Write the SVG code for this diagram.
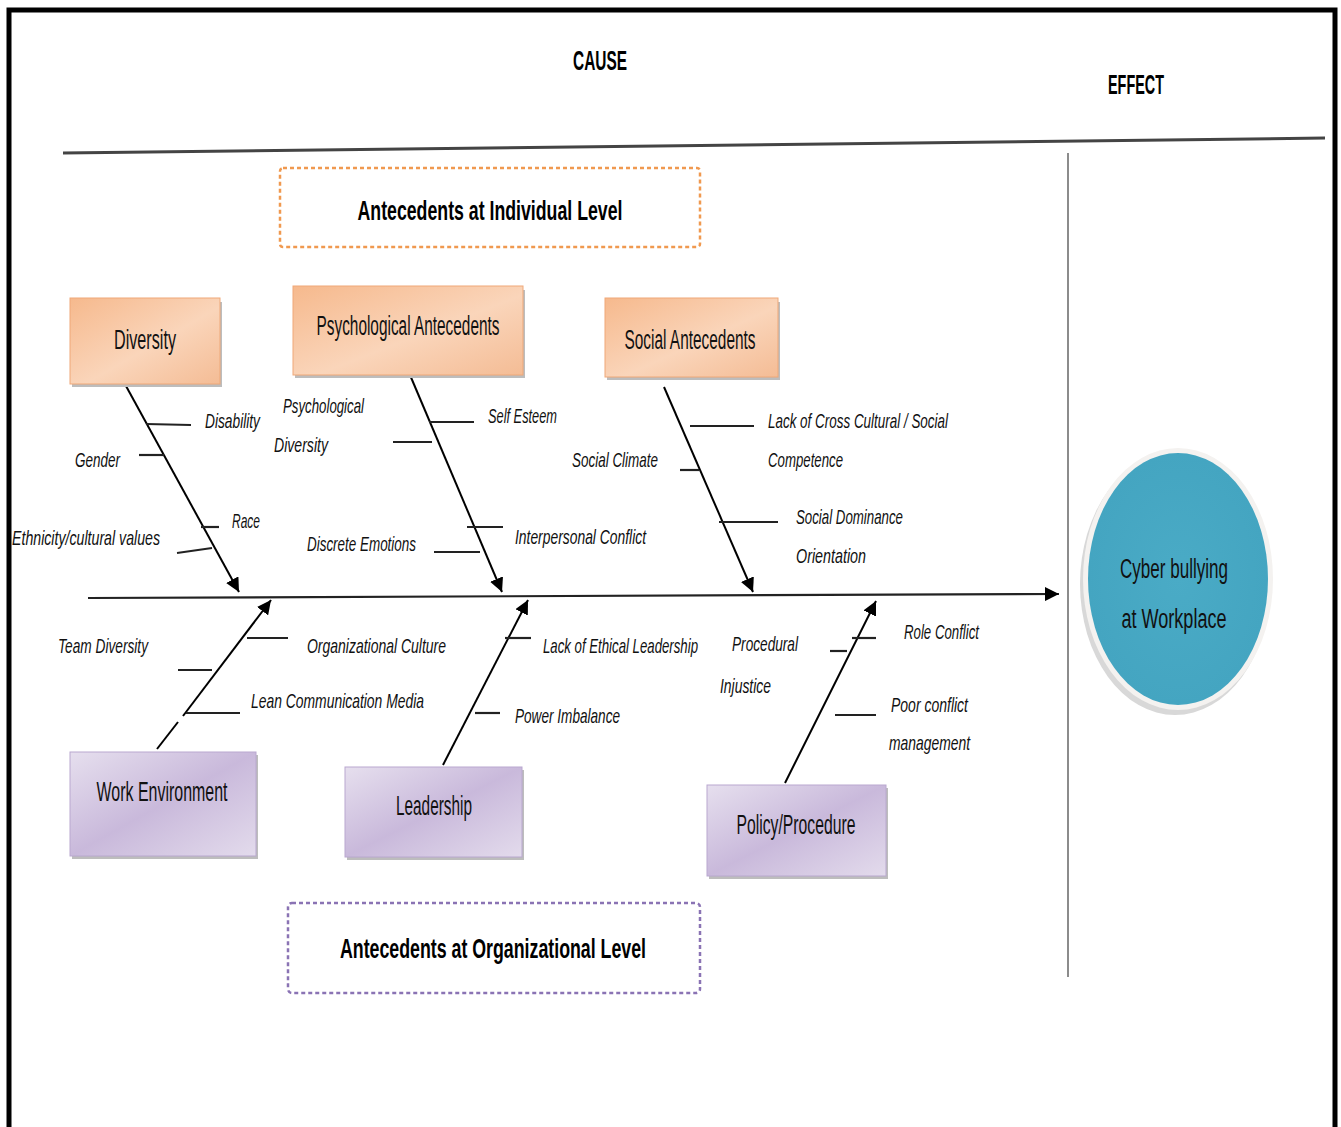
<svg xmlns="http://www.w3.org/2000/svg" width="1341" height="1127" viewBox="0 0 1341 1127">
<defs>
<linearGradient id="gOr" x1="0" y1="0" x2="1" y2="1">
<stop offset="0" stop-color="#F6B98D"/>
<stop offset="0.55" stop-color="#FAD5BA"/>
<stop offset="1" stop-color="#F4BC95"/>
</linearGradient>
<linearGradient id="gPu" x1="0" y1="0" x2="1" y2="1">
<stop offset="0" stop-color="#E6DFEE"/>
<stop offset="0.5" stop-color="#C9B9DB"/>
<stop offset="1" stop-color="#E3DBEC"/>
</linearGradient>
<radialGradient id="gTeal" cx="0.5" cy="0.5" r="0.5">
<stop offset="0" stop-color="#4AABC6"/>
<stop offset="1" stop-color="#44A5C1"/>
</radialGradient>
<marker id="arr" viewBox="0 0 10 10" refX="10" refY="5" markerWidth="14" markerHeight="14" markerUnits="userSpaceOnUse" orient="auto">
<path d="M0,0 L10,5 L0,10 z" fill="#000"/>
</marker>
<style>
.lbl{font-family:"Liberation Sans",Arial,sans-serif;font-style:italic;font-size:21px;fill:#111}
.box{font-family:"Liberation Sans",Arial,sans-serif;font-size:27px;fill:#111;text-anchor:middle}
.ttl{font-family:"Liberation Sans",Arial,sans-serif;font-weight:bold;font-size:28px;fill:#000;text-anchor:middle}
.bone{stroke:#000;stroke-width:2;fill:none}
.rib{stroke:#222;stroke-width:2.2;fill:none}
.orbox{fill:url(#gOr);stroke:#EFA878;stroke-width:1}
.pubox{fill:url(#gPu);stroke:#B9A8CF;stroke-width:1}
.shadow{fill:#BDBDBD}
</style>
</defs>
<rect width="1341" height="1127" fill="#fff"/>
<!-- frame -->
<path d="M9,1127 V10 H1335 V1127" fill="none" stroke="#000" stroke-width="5"/>

<!-- headers -->
<g id="cause-label"><text class="ttl" x="600" y="70" textLength="54" lengthAdjust="spacingAndGlyphs">CAUSE</text></g>
<g id="effect-label"><text class="ttl" x="1136" y="94" textLength="56" lengthAdjust="spacingAndGlyphs">EFFECT</text></g>

<g id="individual-level">
<rect x="280" y="168" width="420" height="79" rx="3" fill="none" stroke="#F0994F" stroke-width="2.5" stroke-dasharray="4 3"/>
<text class="ttl" x="490" y="220" font-size="30" textLength="265" lengthAdjust="spacingAndGlyphs">Antecedents at Individual Level</text>
</g>
<g id="organizational-level">
<rect x="288" y="903" width="412" height="90" rx="4" fill="none" stroke="#8A73B4" stroke-width="2.5" stroke-dasharray="4 3"/>
<text class="ttl" x="493" y="958" font-size="30" textLength="306" lengthAdjust="spacingAndGlyphs">Antecedents at Organizational Level</text>
</g>

<!-- connectors -->
<g id="connectors">
<line x1="63" y1="153" x2="1325" y2="138" stroke="#444" stroke-width="3"/>
<line x1="1068" y1="153" x2="1068" y2="977" stroke="#666" stroke-width="1.5"/>
<line x1="88" y1="598" x2="1059" y2="594" stroke="#222" stroke-width="2.2" marker-end="url(#arr)"/>
<!-- upper bones -->
<line class="bone" x1="126" y1="386" x2="239" y2="592" marker-end="url(#arr)"/>
<line class="bone" x1="410" y1="375" x2="502" y2="592" marker-end="url(#arr)"/>
<line class="bone" x1="664" y1="387" x2="753" y2="592" marker-end="url(#arr)"/>
<!-- lower bones -->
<line class="bone" x1="157" y1="749" x2="178" y2="722"/>
<line class="bone" x1="183" y1="716" x2="271" y2="600" marker-end="url(#arr)"/>
<line class="bone" x1="443" y1="765" x2="528" y2="600" marker-end="url(#arr)"/>
<line class="bone" x1="785" y1="783" x2="876" y2="601" marker-end="url(#arr)"/>
<!-- ribs: diversity -->
<line class="rib" x1="146" y1="424" x2="191" y2="425"/>
<line class="rib" x1="139" y1="455" x2="164" y2="455"/>
<line class="rib" x1="201" y1="527" x2="219" y2="527"/>
<line class="rib" x1="177" y1="553" x2="212" y2="548"/>
<!-- ribs: psychological -->
<line class="rib" x1="429" y1="422" x2="474" y2="422"/>
<line class="rib" x1="393" y1="442" x2="432" y2="442"/>
<line class="rib" x1="467" y1="527" x2="503" y2="527"/>
<line class="rib" x1="434" y1="552" x2="480" y2="552"/>
<!-- ribs: social -->
<line class="rib" x1="690" y1="426" x2="754" y2="426"/>
<line class="rib" x1="680" y1="470" x2="699" y2="470"/>
<line class="rib" x1="719" y1="522" x2="778" y2="522"/>
<!-- ribs: work env -->
<line class="rib" x1="247" y1="638" x2="288" y2="638"/>
<line class="rib" x1="178" y1="670" x2="212" y2="670"/>
<line class="rib" x1="186" y1="713" x2="240" y2="713"/>
<!-- ribs: leadership -->
<line class="rib" x1="505" y1="638" x2="531" y2="638"/>
<line class="rib" x1="475" y1="713" x2="500" y2="713"/>
<!-- ribs: policy -->
<line class="rib" x1="852" y1="638" x2="876" y2="638"/>
<line class="rib" x1="830" y1="651" x2="847" y2="651"/>
<line class="rib" x1="835" y1="715" x2="876" y2="715"/>
</g>

<!-- cause nodes -->
<g id="node-diversity">
<rect class="shadow" x="72" y="302" width="150" height="85"/>
<rect class="orbox" x="70" y="298" width="150" height="86"/>
<text class="box" x="145" y="349" textLength="62" lengthAdjust="spacingAndGlyphs">Diversity</text>
</g>
<g id="node-psychological">
<rect class="shadow" x="295" y="290" width="230" height="88"/>
<rect class="orbox" x="293" y="286" width="230" height="89"/>
<text class="box" x="408" y="335" textLength="183" lengthAdjust="spacingAndGlyphs">Psychological Antecedents</text>
</g>
<g id="node-social">
<rect class="shadow" x="607" y="302" width="173" height="78"/>
<rect class="orbox" x="605" y="298" width="173" height="79"/>
<text class="box" x="690" y="349" textLength="131" lengthAdjust="spacingAndGlyphs">Social Antecedents</text>
</g>
<g id="node-work-environment">
<rect class="shadow" x="72" y="755" width="186" height="104"/>
<rect class="pubox" x="70" y="752" width="186" height="104"/>
<text class="box" x="162" y="801" textLength="131" lengthAdjust="spacingAndGlyphs">Work Environment</text>
</g>
<g id="node-leadership">
<rect class="shadow" x="347" y="770" width="177" height="90"/>
<rect class="pubox" x="345" y="767" width="177" height="90"/>
<text class="box" x="434" y="815" textLength="76" lengthAdjust="spacingAndGlyphs">Leadership</text>
</g>
<g id="node-policy">
<rect class="shadow" x="709" y="788" width="179" height="91"/>
<rect class="pubox" x="707" y="785" width="179" height="91"/>
<text class="box" x="796" y="834" textLength="119" lengthAdjust="spacingAndGlyphs">Policy/Procedure</text>
</g>

<!-- effect node -->
<g id="node-effect">
<ellipse cx="1175" cy="584" rx="95" ry="131" fill="#D8D8D8"/>
<ellipse cx="1178" cy="579" rx="95" ry="131" fill="#F4F2F0"/>
<ellipse cx="1178" cy="579" rx="90" ry="126" fill="url(#gTeal)"/>
<text class="box" x="1174" y="578" textLength="108" lengthAdjust="spacingAndGlyphs">Cyber bullying</text>
<text class="box" x="1174" y="628" textLength="105" lengthAdjust="spacingAndGlyphs">at Workplace</text>
</g>

<!-- sub-cause labels -->
<g id="labels">
<text class="lbl" x="205" y="428" textLength="55" lengthAdjust="spacingAndGlyphs">Disability</text>
<text class="lbl" x="75" y="467" textLength="45" lengthAdjust="spacingAndGlyphs">Gender</text>
<text class="lbl" x="232" y="528" textLength="28" lengthAdjust="spacingAndGlyphs">Race</text>
<text class="lbl" x="12" y="545" textLength="148" lengthAdjust="spacingAndGlyphs">Ethnicity/cultural  values</text>
<text class="lbl" x="283" y="413" textLength="81" lengthAdjust="spacingAndGlyphs">Psychological</text>
<text class="lbl" x="274" y="452" textLength="54" lengthAdjust="spacingAndGlyphs">Diversity</text>
<text class="lbl" x="488" y="423" textLength="69" lengthAdjust="spacingAndGlyphs">Self Esteem</text>
<text class="lbl" x="307" y="551" textLength="109" lengthAdjust="spacingAndGlyphs">Discrete Emotions</text>
<text class="lbl" x="515" y="544" textLength="131" lengthAdjust="spacingAndGlyphs">Interpersonal Conflict</text>
<text class="lbl" x="572" y="467" textLength="86" lengthAdjust="spacingAndGlyphs">Social Climate</text>
<text class="lbl" x="768" y="428" textLength="180" lengthAdjust="spacingAndGlyphs">Lack of Cross Cultural / Social</text>
<text class="lbl" x="768" y="467" textLength="75" lengthAdjust="spacingAndGlyphs">Competence</text>
<text class="lbl" x="796" y="524" textLength="107" lengthAdjust="spacingAndGlyphs">Social Dominance</text>
<text class="lbl" x="796" y="563" textLength="70" lengthAdjust="spacingAndGlyphs">Orientation</text>
<text class="lbl" x="58" y="653" textLength="90" lengthAdjust="spacingAndGlyphs">Team Diversity</text>
<text class="lbl" x="307" y="653" textLength="139" lengthAdjust="spacingAndGlyphs">Organizational  Culture</text>
<text class="lbl" x="251" y="708" textLength="173" lengthAdjust="spacingAndGlyphs">Lean Communication  Media</text>
<text class="lbl" transform="translate(543,653) scale(0.62,1)" x="0" y="0" textLength="250" lengthAdjust="spacingAndGlyphs">Lack of Ethical Leadership</text>
<text class="lbl" x="515" y="723" textLength="105" lengthAdjust="spacingAndGlyphs">Power Imbalance</text>
<text class="lbl" transform="translate(732,651) scale(0.66,1)" x="0" y="0" textLength="100" lengthAdjust="spacingAndGlyphs">Procedural</text>
<text class="lbl" x="720" y="693" textLength="51" lengthAdjust="spacingAndGlyphs">Injustice</text>
<text class="lbl" x="904" y="639" textLength="75" lengthAdjust="spacingAndGlyphs">Role Conflict</text>
<text class="lbl" x="891" y="712" textLength="77" lengthAdjust="spacingAndGlyphs">Poor conflict</text>
<text class="lbl" x="889" y="750" textLength="81" lengthAdjust="spacingAndGlyphs">management</text>
</g>
</svg>
